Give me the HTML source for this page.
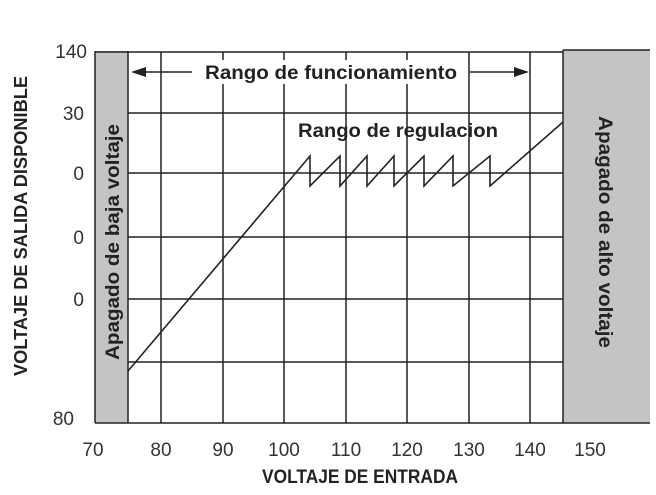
<!DOCTYPE html>
<html><head><style>body{margin:0;background:#fff}</style></head><body>
<svg width="656" height="490" xmlns="http://www.w3.org/2000/svg" font-family="Liberation Sans, sans-serif">
<rect x="95" y="51" width="33" height="372" fill="#c4c4c4"/>
<rect x="563" y="50" width="87" height="373" fill="#c4c4c4"/>
<g stroke="#222" stroke-width="1.5" fill="none">
<line x1="95" y1="51" x2="95" y2="423"/>
<line x1="128" y1="51" x2="128" y2="423"/>
<line x1="563" y1="50" x2="563" y2="423"/>
<line x1="95" y1="52" x2="563" y2="52"/>
<line x1="563" y1="50" x2="650" y2="50"/>
<line x1="95" y1="423" x2="650" y2="423"/>
<line x1="128" y1="113" x2="563" y2="113"/>
<line x1="128" y1="173" x2="563" y2="173"/>
<line x1="128" y1="237" x2="563" y2="237"/>
<line x1="128" y1="299" x2="563" y2="299"/>
<line x1="128" y1="362" x2="563" y2="362"/>
<line x1="161" y1="52" x2="161" y2="423"/>
<line x1="223" y1="52" x2="223" y2="423"/>
<line x1="284" y1="52" x2="284" y2="423"/>
<line x1="346" y1="52" x2="346" y2="423"/>
<line x1="407" y1="52" x2="407" y2="423"/>
<line x1="469" y1="52" x2="469" y2="423"/>
<line x1="530" y1="52" x2="530" y2="423"/>
<polyline stroke-width="1.6" points="128,371 310,156 310,186 340,156 340,186 367,156 367,186 394,156 394,186 424,156 424,186 453,156 453,186 490,156 490,186 563,122"/>
<line x1="140" y1="72" x2="192" y2="72"/>
<line x1="470" y1="72" x2="522" y2="72"/>
</g>
<rect x="198" y="60" width="266" height="24" fill="#fff"/>
<polygon points="131,72 146,67 146,77" fill="#222"/>
<polygon points="529,72 514,67 514,77" fill="#222"/>
<g font-weight="bold" fill="#222" font-size="19">
<text x="331" y="79" text-anchor="middle" textLength="252" lengthAdjust="spacingAndGlyphs">Rango de funcionamiento</text>
<text x="398" y="137" text-anchor="middle" textLength="200" lengthAdjust="spacingAndGlyphs">Rango de regulacion</text>
<text transform="translate(119,242) rotate(-90)" text-anchor="middle" textLength="236" lengthAdjust="spacingAndGlyphs">Apagado de baja voltaje</text>
<text transform="translate(599,232) rotate(90)" text-anchor="middle" textLength="232" lengthAdjust="spacingAndGlyphs">Apagado de alto voltaje</text>
<text x="360" y="483" text-anchor="middle" textLength="196" lengthAdjust="spacingAndGlyphs">VOLTAJE DE ENTRADA</text>
<text transform="translate(27,226) rotate(-90)" text-anchor="middle" font-size="18" textLength="300" lengthAdjust="spacingAndGlyphs">VOLTAJE DE SALIDA DISPONIBLE</text>
</g>
<g fill="#333" font-size="19" text-anchor="end">
<text x="87" y="58">140</text>
<text x="84" y="120">30</text>
<text x="84" y="180">0</text>
<text x="84" y="244">0</text>
<text x="84" y="306">0</text>
<text x="74" y="425">80</text>
</g>
<g fill="#333" font-size="19" text-anchor="middle">
<text x="93" y="456">70</text>
<text x="161" y="456">80</text>
<text x="223" y="456">90</text>
<text x="284" y="456">100</text>
<text x="346" y="456">110</text>
<text x="407" y="456">120</text>
<text x="469" y="456">130</text>
<text x="530" y="456">140</text>
<text x="590" y="456">150</text>
</g>
</svg>
</body></html>
